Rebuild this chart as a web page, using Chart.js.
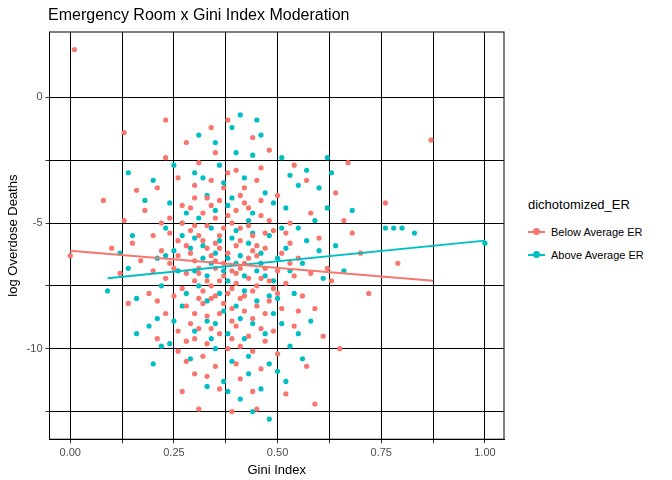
<!DOCTYPE html>
<html>
<head>
<meta charset="utf-8">
<script src="https://cdn.jsdelivr.net/npm/chart.js@4.4.0/dist/chart.umd.min.js"></script>
<style>
  body { margin: 0; background: #fff; font-family: 'Liberation Sans', Arial, sans-serif; }
  #wrap { position: relative; width: 672px; height: 480px; }
  #title { position: absolute; left: 48px; top: 6px; font-size: 16px; color: #000; }
  #chartBox { position: absolute; left: 0; top: 0; width: 512px; height: 480px; }
  #legend { position: absolute; left: 528px; top: 197px; font-size: 13px; color: #000; }
  .item { display: flex; align-items: center; font-size: 11px; margin-top: 8px; }
  .key { position: relative; width: 17px; height: 15px; margin-right: 6px; }
  .key .ln { position: absolute; left: 0; right: 0; top: 7px; height: 2px; }
  .key .dt { position: absolute; left: 5px; top: 4px; width: 7px; height: 7px; border-radius: 50%; }
</style>
</head>
<body>
<div id="wrap">
  <div id="chartBox"><canvas id="c"></canvas></div>
  <div id="title">Emergency Room x Gini Index Moderation</div>
  <div id="legend">
    <div>dichotomized_ER</div>
    <div class="item" style="margin-top:12px"><div class="key"><div class="ln" style="background:#F8766D"></div><div class="dt" style="background:#F8766D"></div></div>Below Average ER</div>
    <div class="item"><div class="key"><div class="ln" style="background:#00BFC4"></div><div class="dt" style="background:#00BFC4"></div></div>Above Average ER</div>
  </div>
</div>
<script>
// Gini Index / log overdose deaths (subset of points)
const belowPts = [
  0.30,-6.5, 0.35,-6.8, 0.40,-7.0, 0.38,-6.2, 0.42,-6.6, 0.33,-7.3, 0.45,-7.5, 0.28,-5.9, 0.36,-5.5, 0.41,-5.2,
  0.47,-6.0, 0.50,-6.9, 0.31,-8.0, 0.39,-8.4, 0.44,-8.8, 0.34,-9.2, 0.27,-7.6, 0.25,-6.8, 0.22,-6.1, 0.20,-5.5,
  0.24,-4.8, 0.29,-4.4, 0.33,-4.0, 0.37,-3.6, 0.42,-4.2, 0.46,-4.7, 0.49,-5.3, 0.53,-5.8, 0.55,-6.4, 0.52,-7.4,
  0.56,-7.9, 0.48,-8.1, 0.43,-9.5, 0.38,-10.0, 0.32,-10.3, 0.29,-9.0, 0.23,-8.6, 0.19,-7.8, 0.17,-6.5, 0.15,-5.8,
  0.18,-4.5, 0.21,-3.6, 0.26,-3.2, 0.31,-2.6, 0.35,-2.2, 0.40,-2.9, 0.45,-3.3, 0.50,-3.9, 0.58,-4.6, 0.60,-5.6,
  0.62,-6.8, 0.59,-8.4, 0.54,-9.1, 0.50,-10.2, 0.46,-10.8, 0.41,-11.2, 0.36,-11.6, 0.30,-11.0, 0.26,-10.1, 0.21,-9.6,
  0.14,-8.2, 0.12,-7.0, 0.10,-6.0, 0.13,-4.9, 0.16,-3.7, 0.23,-2.4, 0.28,-1.8, 0.34,-1.2, 0.38,-0.9, 0.44,-1.6,
  0.48,-2.1, 0.54,-2.7, 0.57,-3.3, 0.64,-3.8, 0.66,-4.9, 0.63,-7.3, 0.61,-9.5, 0.57,-10.7, 0.52,-11.8, 0.45,-12.4,
  0.39,-12.5, 0.31,-12.4, 0.27,-11.7, 0.40,-5.9, 0.36,-6.0, 0.32,-5.7, 0.34,-6.3, 0.37,-7.1, 0.43,-7.2, 0.39,-7.6,
  0.35,-7.9, 0.31,-7.0, 0.28,-7.0, 0.26,-6.3, 0.44,-6.1, 0.47,-6.8, 0.41,-8.0, 0.36,-8.6, 0.33,-8.7, 0.30,-5.1,
  0.35,-4.8, 0.40,-4.5, 0.44,-5.5, 0.24,-5.4, 0.27,-5.0, 0.51,-6.2, 0.49,-7.6, 0.46,-9.2, 0.40,-9.1, 0.30,-9.6,
  0.25,-7.9, 0.53,-5.0, 0.58,-7.0, 0.68,-5.4, 0.70,-6.2, 0.65,-10.0, 0.59,-12.2, 0.01,1.9, 0.00,-6.3, 0.13,-1.4,
  0.87,-1.7, 0.79,-6.6, 0.72,-7.8, 0.08,-4.1, 0.23,-0.9, 0.76,-4.2, 0.67,-2.6,
  // dense core
  0.29,-6.2, 0.31,-6.8, 0.33,-6.0, 0.35,-6.5, 0.37,-6.6, 0.39,-6.9, 0.41,-6.8, 0.43,-6.4, 0.45,-6.3, 0.46,-7.2,
  0.30,-7.3, 0.32,-7.7, 0.34,-7.5, 0.36,-7.3, 0.38,-7.8, 0.40,-7.4, 0.42,-7.9, 0.44,-7.7, 0.48,-7.3, 0.50,-7.8,
  0.29,-5.3, 0.31,-5.5, 0.33,-5.1, 0.35,-5.8, 0.37,-5.2, 0.39,-5.0, 0.41,-5.7, 0.43,-5.1, 0.45,-5.9, 0.47,-5.4,
  0.28,-8.3, 0.30,-8.6, 0.32,-8.2, 0.34,-8.0, 0.37,-8.2, 0.39,-8.9, 0.42,-8.5, 0.45,-8.3, 0.47,-8.6, 0.51,-8.4,
  0.27,-4.3, 0.30,-4.0, 0.32,-4.6, 0.34,-4.3, 0.36,-4.1, 0.38,-4.7, 0.41,-3.9, 0.43,-4.4, 0.46,-4.1, 0.48,-4.9,
  0.26,-9.3, 0.28,-9.7, 0.31,-9.2, 0.33,-9.8, 0.36,-9.4, 0.39,-9.6, 0.41,-9.9, 0.44,-10.1, 0.47,-9.7, 0.49,-9.3,
  0.24,-6.6, 0.23,-7.2, 0.22,-5.0, 0.20,-6.9, 0.26,-5.7, 0.53,-6.6, 0.54,-7.1, 0.52,-5.4, 0.55,-8.5, 0.21,-8.1,
  0.34,-3.3, 0.38,-3.0, 0.42,-3.6, 0.30,-3.5, 0.46,-2.8, 0.35,-10.7, 0.40,-10.6, 0.44,-11.7, 0.33,-11.1, 0.28,-10.5
];
const abovePts = [
  0.32,-6.4, 0.37,-6.9, 0.41,-6.3, 0.45,-6.9, 0.39,-5.6, 0.34,-5.2, 0.29,-6.0, 0.26,-6.9, 0.31,-7.5, 0.36,-7.8,
  0.42,-7.7, 0.47,-7.1, 0.50,-6.4, 0.48,-5.5, 0.43,-4.9, 0.38,-4.3, 0.33,-3.9, 0.28,-4.6, 0.23,-5.2, 0.21,-6.4,
  0.22,-7.5, 0.27,-8.3, 0.33,-8.9, 0.38,-9.4, 0.44,-9.0, 0.49,-8.6, 0.54,-7.8, 0.56,-6.6, 0.55,-5.2, 0.52,-4.4,
  0.47,-3.8, 0.42,-3.2, 0.36,-2.7, 0.31,-1.5, 0.39,-1.2, 0.41,-0.7, 0.46,-1.5, 0.51,-2.4, 0.57,-2.9, 0.60,-3.6,
  0.62,-4.4, 0.64,-5.9, 0.61,-7.2, 0.58,-8.9, 0.53,-9.9, 0.48,-10.6, 0.43,-11.0, 0.39,-10.5, 0.35,-10.0, 0.29,-10.4,
  0.24,-9.8, 0.19,-9.1, 0.16,-8.0, 0.14,-6.8, 0.15,-5.5, 0.18,-4.1, 0.14,-3.0, 0.20,-3.3, 0.25,-2.7, 0.30,-3.0,
  0.35,-1.8, 0.44,-2.3, 0.50,-10.9, 0.46,-11.6, 0.41,-12.0, 0.37,-11.3, 0.33,-11.5, 0.44,-12.5, 0.48,-12.8, 0.52,-11.3,
  0.56,-10.4, 0.40,-6.6, 0.35,-6.2, 0.30,-5.6, 0.38,-7.3, 0.43,-5.8, 0.46,-6.2, 0.33,-7.1, 0.27,-5.5, 0.48,-7.9,
  0.40,-8.3, 0.35,-9.0, 0.25,-6.1, 0.52,-6.0, 0.57,-5.7, 0.63,-3.0, 0.62,-2.4, 0.59,-4.9, 0.60,-6.1, 0.66,-6.9,
  0.12,-6.2, 0.09,-7.7, 0.16,-9.4, 0.20,-10.6, 0.76,-5.2, 0.78,-5.2, 0.80,-5.2, 0.83,-5.4, 1.00,-5.8, 0.68,-4.5,
  0.21,-8.8, 0.55,-3.5, 0.45,-0.9,
  // dense core
  0.30,-6.9, 0.34,-6.6, 0.38,-6.4, 0.42,-7.1, 0.46,-6.6, 0.49,-7.3, 0.32,-5.9, 0.36,-5.7, 0.40,-5.3, 0.44,-5.4,
  0.28,-7.8, 0.33,-8.1, 0.37,-8.5, 0.41,-8.8, 0.45,-8.1, 0.50,-8.0, 0.27,-5.0, 0.31,-4.8, 0.35,-4.5, 0.39,-4.0,
  0.44,-4.6, 0.49,-4.2, 0.25,-8.9, 0.30,-9.3, 0.34,-9.6, 0.42,-9.6, 0.47,-9.4, 0.51,-9.0, 0.53,-6.9, 0.51,-5.2,
  0.23,-6.3, 0.24,-4.2, 0.22,-9.9, 0.53,-3.1, 0.37,-3.4, 0.32,-3.2, 0.40,-2.2, 0.43,-10.3, 0.38,-11.7, 0.55,-9.4
];
// fitted lines: [x0, y0, x1, y1]
const belowFit = [0.00, -6.1, 0.875, -7.3];
const aboveFit = [0.09, -7.2, 1.00, -5.7];

const xTicks = [0, 0.125, 0.25, 0.375, 0.5, 0.625, 0.75, 0.875, 1.0];
const yTicks = [-12.5, -10, -7.5, -5, -2.5, 0];

const RED = '#F8766D', BLUE = '#00BFC4';

function toXY(flat) {
  const out = [];
  for (let i = 0; i < flat.length; i += 2) out.push({ x: flat[i], y: flat[i + 1] });
  return out;
}

const panelBorder = {
  id: 'panelBorder',
  afterDraw(chart) {
    const a = chart.chartArea, ctx = chart.ctx;
    ctx.save();
    ctx.strokeStyle = '#000';
    ctx.lineWidth = 1;
    ctx.strokeRect(a.left, a.top, a.right - a.left, a.bottom - a.top);
    ctx.restore();
  }
};

new Chart(document.getElementById('c'), {
  type: 'scatter',
  data: {
    datasets: [
      { data: toXY(belowFit), type: 'line', borderColor: RED, borderWidth: 2, pointRadius: 0, order: 0 },
      { data: toXY(aboveFit), type: 'line', borderColor: BLUE, borderWidth: 2, pointRadius: 0, order: 0 },
      { data: toXY(belowPts), backgroundColor: RED, borderWidth: 0, pointRadius: 2.6, order: 1 },
      { data: toXY(abovePts), backgroundColor: BLUE, borderWidth: 0, pointRadius: 2.6, order: 2 }
    ]
  },
  plugins: [panelBorder],
  options: {
    responsive: true,
    maintainAspectRatio: false,
    animation: false,
    layout: { padding: { top: 32, right: 8, left: 4, bottom: 2 } },
    plugins: { legend: { display: false }, tooltip: { enabled: false } },
    scales: {
      x: {
        type: 'linear', min: -0.05, max: 1.046,
        afterBuildTicks: s => { s.ticks = xTicks.map(v => ({ value: v })); },
        grid: { color: '#000', lineWidth: 1, tickLength: 4, tickColor: '#333' },
        border: { color: '#000' },
        ticks: {
          color: '#4d4d4d', font: { size: 11 }, autoSkip: false, maxRotation: 0,
          callback: v => Math.abs(v * 4 - Math.round(v * 4)) < 1e-6 ? v.toFixed(2) : ''
        },
        title: { display: true, text: 'Gini Index', color: '#000', font: { size: 13 }, padding: 0 }
      },
      y: {
        type: 'linear', min: -13.6, max: 2.6,
        afterBuildTicks: s => { s.ticks = yTicks.map(v => ({ value: v })); },
        grid: { color: '#000', lineWidth: 1, tickLength: 4, tickColor: '#333' },
        border: { color: '#000' },
        ticks: {
          color: '#4d4d4d', font: { size: 11 }, autoSkip: false,
          callback: v => v % 5 === 0 ? String(v) : ''
        },
        title: { display: true, text: 'log Overdose Deaths', color: '#000', font: { size: 13 }, padding: 2 }
      }
    }
  }
});
</script>
</body>
</html>
